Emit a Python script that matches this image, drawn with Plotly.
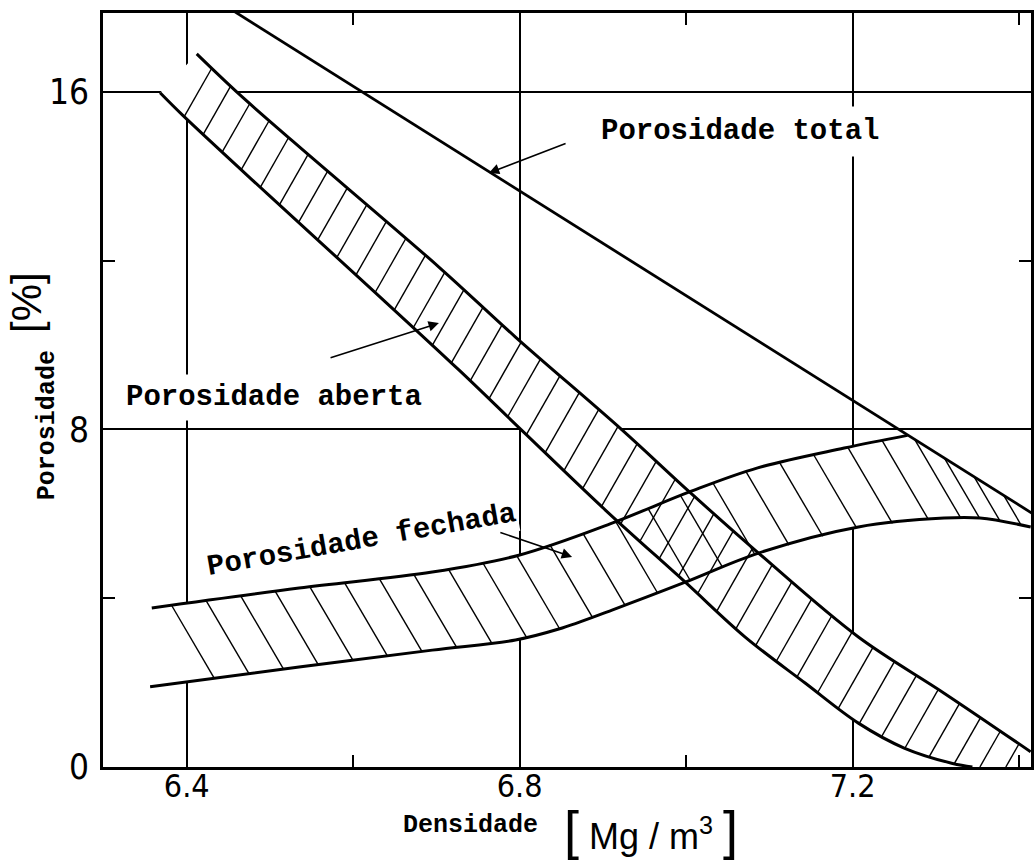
import numpy as np
import plotly.graph_objects as go

# ---- data: porosity [%] versus sintered density [Mg/m3] ----
total_x = [6.44, 7.42]
total_y = [18.12, 5.96]

aberta_sup_x = [6.412, 6.460, 6.527, 6.703, 6.795, 6.923, 7.004, 7.087, 7.207, 7.310, 7.414]
aberta_sup_y = [16.90, 16.00, 14.84, 11.85, 10.19, 7.99, 6.52, 5.07, 3.08, 1.75, 0.36]
aberta_inf_x = [6.368, 6.395, 6.496, 6.619, 6.727, 6.802, 6.903, 6.999, 7.071, 7.143, 7.207, 7.262, 7.319, 7.344]
aberta_inf_y = [15.98, 15.45, 13.60, 11.38, 9.41, 7.99, 6.09, 4.38, 3.08, 1.99, 1.04, 0.45, 0.09, 0.00]

fechada_sup_x = [6.358, 6.535, 6.695, 6.799, 6.911, 7.004, 7.086, 7.190, 7.266]
fechada_sup_y = [3.77, 4.24, 4.62, 5.02, 5.78, 6.52, 7.09, 7.56, 7.86]
fechada_inf_x = [6.356, 6.535, 6.695, 6.795, 6.847, 6.911, 6.999, 7.087, 7.207, 7.310, 7.353, 7.414]
fechada_inf_y = [1.90, 2.37, 2.77, 3.01, 3.27, 3.72, 4.38, 5.07, 5.69, 5.90, 5.90, 5.69]

x_ticks = [6.4, 6.8, 7.2]
x_tick_text = ["6.4", "6.8", "7.2"]
x_minor = [6.6, 7.0, 7.4]
y_ticks = [0, 8, 16]
y_tick_text = ["0", "8", "16"]
y_minor = [4, 12]

# ---- geometry ----
W, H = 1034, 868
M_L, M_R, M_T, M_B = 103, 0, 13, 101
X_RANGE = [6.2994, 7.4144]
Y_RANGE = [0.0, 17.87]
PX_X = (W - M_L - M_R) / (X_RANGE[1] - X_RANGE[0])
PX_Y = (H - M_T - M_B) / (Y_RANGE[1] - Y_RANGE[0])

INK = "black"
MONO = "Liberation Mono, DejaVu Sans Mono, monospace"
SANS = "Liberation Sans Narrow, DejaVu Sans Condensed, Liberation Sans, sans-serif"
SANS_REG = "Liberation Sans, Arial, sans-serif"


def hatch_segments(fx, fy, tx, ty, screen_slope, step_px, offset_px):
    """Hatch strokes starting on curve (fx, fy), running right at the given
    on-screen slope (positive = upward) until they meet curve (tx, ty)."""
    fx, fy, tx, ty = map(np.asarray, (fx, fy, tx, ty))
    k = screen_slope * PX_X / PX_Y
    sgn = np.sign(k)
    xf = np.linspace(fx[0], fx[-1], 3000)
    yf = np.interp(xf, fx, fy)
    arc = np.concatenate([[0.0], np.cumsum(np.hypot(np.diff(xf) * PX_X, np.diff(yf) * PX_Y))])
    xt = np.linspace(tx[0], tx[-1], 6000)
    yt = np.interp(xt, tx, ty)
    xs, ys = [], []
    for a in np.arange(offset_px, arc[-1], step_px):
        x0 = float(np.interp(a, arc, xf))
        y0 = float(np.interp(x0, fx, fy))
        m = xt >= x0
        if not m.any():
            continue
        xc, yc = xt[m], yt[m]
        d = sgn * (yc - (y0 + k * (xc - x0)))
        if d[0] <= 0:
            continue
        idx = int(np.argmax(d <= 0))
        if d[idx] > 0:
            continue
        i0 = idx - 1
        x1 = xc[i0] + (xc[idx] - xc[i0]) * d[i0] / (d[i0] - d[idx])
        y1 = y0 + k * (x1 - x0)
        xs += [x0, float(x1), None]
        ys += [y0, float(y1), None]
    return xs, ys


# band boundaries as drawn: open porosity floor is the axis once it reaches 0,
# closed porosity ceiling follows the total-porosity line after they meet
ab_inf_x = aberta_inf_x + [X_RANGE[1]]
ab_inf_y = aberta_inf_y + [0.0]
fe_sup_x = fechada_sup_x + [fechada_inf_x[-1]]
fe_sup_y = fechada_sup_y + [float(np.interp(fechada_inf_x[-1], total_x, total_y))]

fig = go.Figure()

# white band interiors (keep the grid out of the bands)
fig.add_trace(go.Scatter(
    x=aberta_sup_x + ab_inf_x[::-1], y=aberta_sup_y + ab_inf_y[::-1],
    fill="toself", fillcolor="white", mode="lines", line=dict(width=0),
    hoverinfo="skip"))
fig.add_trace(go.Scatter(
    x=fe_sup_x + fechada_inf_x[::-1], y=fe_sup_y + fechada_inf_y[::-1],
    fill="toself", fillcolor="white", mode="lines", line=dict(width=0),
    hoverinfo="skip"))

# hatching
hx, hy = hatch_segments(ab_inf_x, ab_inf_y, aberta_sup_x, aberta_sup_y, 1.75, 26, 8)
fig.add_trace(go.Scatter(x=hx, y=hy, mode="lines", line=dict(color=INK, width=1.4),
                         hoverinfo="skip", name="Porosidade aberta"))
hx, hy = hatch_segments(fe_sup_x, fe_sup_y, fechada_inf_x, fechada_inf_y, -1.7, 35, 20)
fig.add_trace(go.Scatter(x=hx, y=hy, mode="lines", line=dict(color=INK, width=1.4),
                         hoverinfo="skip", name="Porosidade fechada"))

# boundary curves
for cx, cy in [(aberta_sup_x, aberta_sup_y), (aberta_inf_x, aberta_inf_y),
               (fechada_sup_x, fechada_sup_y), (fechada_inf_x, fechada_inf_y)]:
    fig.add_trace(go.Scatter(x=cx, y=cy, mode="lines",
                             line=dict(color=INK, width=3, shape="spline", smoothing=1.0),
                             hoverinfo="skip"))
fig.add_trace(go.Scatter(x=total_x, y=total_y, mode="lines",
                         line=dict(color=INK, width=2.8), name="Porosidade total"))

axis_common = dict(
    showgrid=True, gridcolor=INK, gridwidth=1.5,
    showline=True, linecolor=INK, linewidth=2.8, mirror="ticks",
    ticks="", zeroline=False,
)
fig.update_xaxes(range=X_RANGE, tickmode="array", tickvals=x_ticks, ticktext=x_tick_text,
                 ticklabelstandoff=-11,
                 tickfont=dict(family=SANS, size=32, color=INK),
                 minor=dict(ticks="inside", ticklen=12, tickwidth=1.5, tickcolor=INK,
                            tickmode="array", tickvals=x_minor, showgrid=False),
                 **axis_common)
fig.update_yaxes(range=Y_RANGE, tickmode="array", tickvals=y_ticks, ticktext=y_tick_text,
                 ticklabelstandoff=4,
                 tickfont=dict(family=SANS, size=35, color=INK),
                 minor=dict(ticks="inside", ticklen=12, tickwidth=1.5, tickcolor=INK,
                            tickmode="array", tickvals=y_minor, showgrid=False),
                 **axis_common)

label_font = dict(family=MONO, size=29, color=INK, weight="bold")
arrow_style = dict(xref="x", yref="y", axref="x", ayref="y", text="", showarrow=True,
                   arrowhead=2, arrowsize=1.3, arrowwidth=1.6, arrowcolor=INK)
annotations = [
    dict(x=7.065, y=15.07, text="Porosidade total", showarrow=False,
         font=label_font, bgcolor="white", borderpad=8),
    dict(x=6.505, y=8.75, text="Porosidade aberta", showarrow=False,
         font=label_font, bgcolor="white", borderpad=6),
    dict(x=6.610, y=5.38, text="Porosidade fechada", showarrow=False,
         font=label_font, textangle=-10, bgcolor="white", borderpad=1),
    # pointer arrows
    dict(x=6.763, y=14.08, ax=6.857, ay=14.79, **arrow_style),
    dict(x=6.703, y=10.52, ax=6.571, ay=9.69, **arrow_style),
    dict(x=6.863, y=4.98, ax=6.775, ay=5.57, **arrow_style),
    # axis titles
    dict(x=0.3964, y=-0.078, xref="paper", yref="paper", xanchor="center", yanchor="middle",
         text="Densidade", showarrow=False,
         font=dict(family=MONO, size=25, color=INK, weight="bold")),
    dict(x=0.5908, y=-0.084, xref="paper", yref="paper", xanchor="center", yanchor="middle",
         text='<span style="font-size:54px">[</span> Mg / m<sup>3</sup> <span style="font-size:54px">]</span>',
         showarrow=False, font=dict(family=SANS_REG, size=36, color=INK)),
    dict(x=-0.0591, y=0.4536, xref="paper", yref="paper", xanchor="center", yanchor="middle",
         text="Porosidade", showarrow=False,
         textangle=-90, font=dict(family=MONO, size=25, color=INK, weight="bold")),
    dict(x=-0.0830, y=0.6167, xref="paper", yref="paper", xanchor="center", yanchor="middle",
         text="[%]", showarrow=False,
         textangle=-90, font=dict(family=SANS_REG, size=42, color=INK)),
]

fig.update_layout(
    width=W, height=H,
    margin=dict(l=M_L, r=M_R, t=M_T, b=M_B),
    plot_bgcolor="white", paper_bgcolor="white",
    showlegend=False,
    annotations=annotations,
)

fig.write_html("out.html")
